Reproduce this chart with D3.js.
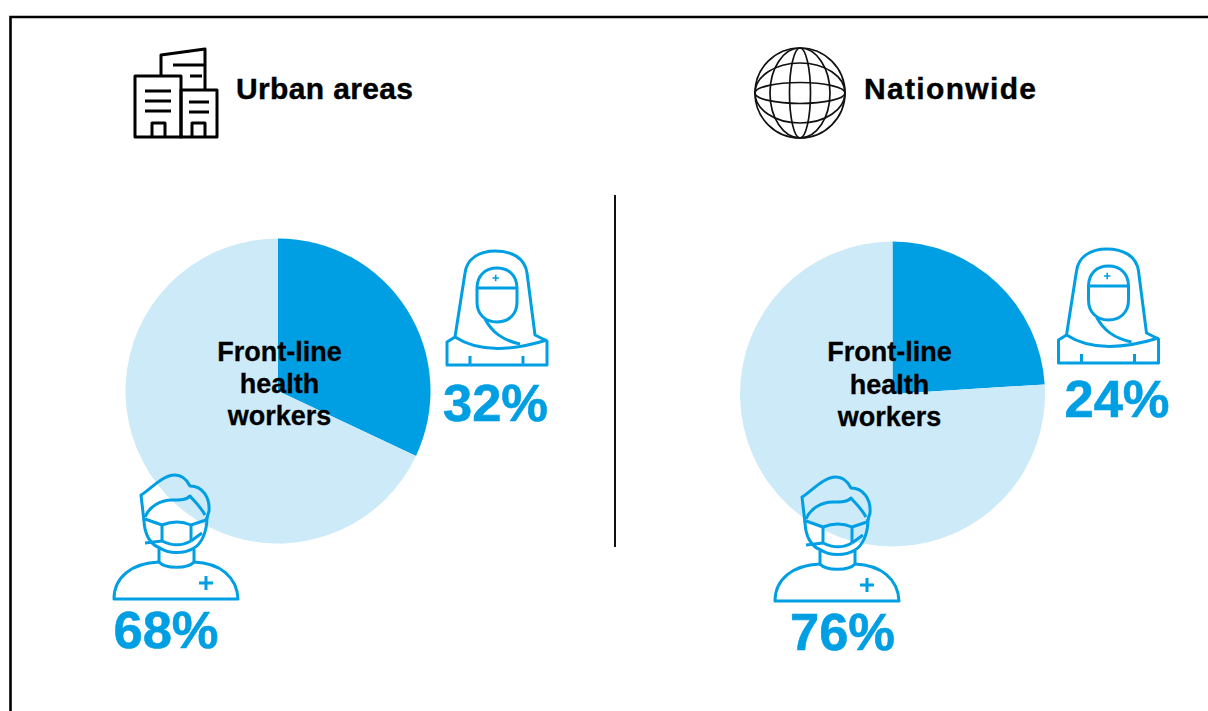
<!DOCTYPE html>
<html><head><meta charset="utf-8">
<script src="https://cdn.jsdelivr.net/npm/d3@7/dist/d3.min.js"></script>
<style>html,body{margin:0;padding:0;background:#fff;overflow:hidden}svg{display:block}text{font-family:"Liberation Sans",Arial,sans-serif;font-weight:700}</style>
</head><body><svg id="c" width="1208" height="711"></svg>
<script>
const panels = ["Urban areas", "Nationwide"];
const womenShare = [32, 24];
const menShare = [68, 76];
const centerLines = ["Front-line", "health", "workers"];
const blue = "#009fe3", light = "#cceaf8";

const svg = d3.select("#c");
svg.append("path").attr("d","M1210,17H10.5V713").attr("fill","none").attr("stroke","#000").attr("stroke-width",2.6);
svg.append("line").attr("x1",615).attr("x2",615).attr("y1",195).attr("y2",547).attr("stroke","#111").attr("stroke-width",2);

const pie = d3.pie().sort(null).value(d=>d);
const arc = d3.arc().innerRadius(0).outerRadius(152.5);
const layout = [
 {cx:278,cy:391,tx:279.5,ty:[361,393,425],title:[236,99],tl:177,w:[430,240],m:[100,465],wl:[495.5,421],ml:[166,648]},
 {cx:892.5,cy:394,tx:889.5,ty:[361,394,426],title:[864,99],tl:172,w:[1041.5,238],m:[761,467],wl:[1117,417],ml:[842.5,650]}
];

const womanPaths = [
 "M17,125V102L25,97L35,33C37,18 50,11 65,11C82,11 95,18 97,33L105,95L117,101V125Z",
 "M47,48C47,36 55,28 67,28C79,28 87,36 87,48V62C87,74 79,82 67,82C55,82 47,74 47,62Z",
 "M47,48H87",
 "M25,97C48,112 78,112 117,100",
 "M55,79C62,92 72,100 90,104",
 "M40,116V125M93,116V125"
];
const womanCross = ["M62.5,38H69M65.7,34.8V41.2"];
const manPaths = [
 "M44,56L41,30C50,25 62,10 75,10C83,10 88,17 90,21C103,21 110,33 109,46L106,56",
 "M45,52C49,42 60,35 72,35C80,35 87,35 90,31C94,36 101,42 105,50",
 "M44,54C44,70 51,80 60,83C68,89 85,89 94,83C101,79 107,68 107,52",
 "M45,54L62,60C72,56 82,56 91,60L106,55","M62,76C72,81 82,81 91,76",
 "M62,60V76M91,60V76","M45,78L62,76M91,76L102,68",
 "M59,84V97C65,104 88,104 94,97V84",
 "M59,97C32,98 14,112 14,134H138C137,112 120,98 94,97",
 "M99,118H113M106,111V125"
];

function icon(paths, at, color, w){
 const g = svg.append("g").attr("transform",`translate(${at[0]},${at[1]})`)
  .attr("fill","none").attr("stroke",color).attr("stroke-width",w).attr("stroke-linejoin","round");
 g.selectAll("path").data(paths).join("path").attr("d",d=>d);
 return g;
}

panels.forEach((name,i)=>{
 const L = layout[i];
 const g = svg.append("g").attr("transform",`translate(${L.cx},${L.cy})`);
 g.selectAll("path").data(pie([womenShare[i],menShare[i]])).join("path")
  .attr("d",arc).attr("fill",(d,j)=>j===0?blue:light);
 svg.append("text").attr("x",L.title[0]).attr("y",L.title[1]).attr("font-size",30).attr("textLength",L.tl).attr("lengthAdjust","spacing")
  .attr("fill","#000").attr("stroke","#000").attr("stroke-width",0.4).text(name);
 centerLines.forEach((t,k)=>svg.append("text").attr("x",L.tx).attr("y",L.ty[k]).attr("text-anchor","middle")
   .attr("font-size",27).attr("fill","#000").attr("stroke","#000").attr("stroke-width",0.3).text(t));
 icon(womanPaths,L.w,blue,3);
 icon(womanCross,L.w,blue,1.6);
 icon(manPaths,L.m,blue,3);
 svg.append("text").attr("x",L.wl[0]).attr("y",L.wl[1]).attr("text-anchor","middle").attr("font-size",52.5).attr("fill",blue).attr("stroke",blue).attr("stroke-width",0.6).text(womenShare[i]+"%");
 svg.append("text").attr("x",L.ml[0]).attr("y",L.ml[1]).attr("text-anchor","middle").attr("font-size",52.5).attr("fill",blue).attr("stroke",blue).attr("stroke-width",0.6).text(menShare[i]+"%");
});

icon(["M35,46H81V107H35Z","M81,60H117V107H81Z","M61,46V25L105,19V60","M73,35H105M90,46H102",
 "M45,61H71M45,71H71M45,81H71","M89,72H109M89,82H109","M52,107V93H65V107","M92,107V93H105V107"],[100,30],"#000",3);
const globe = svg.append("g").attr("transform","translate(800,93)").attr("fill","none").attr("stroke","#111").attr("stroke-width",1.7);
globe.append("circle").attr("r",45);
[10.5,30].forEach(r=>{
 globe.append("ellipse").attr("rx",r).attr("ry",45);
 globe.append("ellipse").attr("rx",45).attr("ry",r);
});
</script></body></html>
